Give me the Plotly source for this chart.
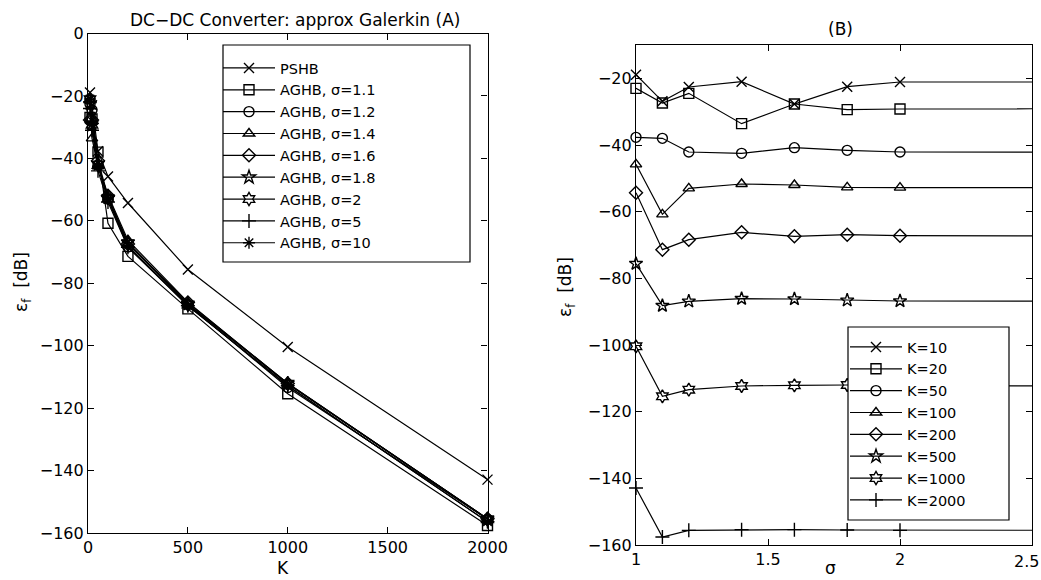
import plotly.graph_objects as go

# ---------------- data ----------------
K_values = [10, 20, 50, 100, 200, 500, 1000, 2000]
sigma_values = [1, 1.1, 1.2, 1.4, 1.6, 1.8, 2, 5, 10]   # sigma=1 column is PSHB
sigma_labels = ["PSHB", "AGHB, σ=1.1", "AGHB, σ=1.2", "AGHB, σ=1.4", "AGHB, σ=1.6",
                "AGHB, σ=1.8", "AGHB, σ=2", "AGHB, σ=5", "AGHB, σ=10"]
K_labels = ["K=10", "K=20", "K=50", "K=100", "K=200", "K=500", "K=1000", "K=2000"]
sigma_tick_vals = [1, 1.5, 2, 2.5]
sigma_tick_text = ["1", "1.5", "2", ""]   # last label drawn as annotation (at figure edge)

# error eps_f [dB] for each K, over sigma_values
err_K10 = [-18.9, -26.9, -22.6, -21.0, -27.7, -22.5, -21.1, -24.0, -21.0]
err_K20 = [-23.0, -27.4, -24.5, -33.6, -27.7, -29.4, -29.2, -31.0, -28.0]
err_K50 = [-37.7, -38.0, -42.1, -42.5, -40.8, -41.6, -42.1, -44.0, -42.5]
err_K100 = [-45.8, -60.8, -53.0, -51.7, -52.0, -52.7, -52.8, -54.0, -53.0]
err_K200 = [-54.3, -71.4, -68.4, -66.2, -67.4, -66.9, -67.2, -68.5, -68.0]
err_K500 = [-75.6, -88.2, -86.9, -86.1, -86.2, -86.6, -86.8, -87.2, -87.2]
err_K1000 = [-100.4, -115.4, -113.4, -112.3, -112.1, -112.0, -112.2, -112.8, -112.8]
err_K2000 = [-142.9, -157.6, -155.6, -155.4, -155.4, -155.5, -155.6, -156.4, -156.4]

err_by_K = [err_K10, err_K20, err_K50, err_K100, err_K200, err_K500, err_K1000, err_K2000]

W, H = 1041, 580
def px(x): return x / W
def py(y): return 1 - y / H

FONT = "DejaVu Sans"

sigma_symbols = ["x-thin-open", "square-open", "circle-open", "triangle-up-open",
                 "diamond-open", "star-open", "hexagram-open", "cross-thin-open", "asterisk-open"]
K_symbols = ["x-thin-open", "square-open", "circle-open", "triangle-up-open",
             "diamond-open", "star-open", "hexagram-open", "cross-thin-open"]

fig = go.Figure()

# ---- left panel: error vs K for each sigma ----
for j, name in enumerate(sigma_labels):
    yvals = [row[j] for row in err_by_K]
    fig.add_trace(go.Scatter(
        x=K_values, y=yvals, name=name, mode="lines+markers",
        line=dict(color="black", width=1.2),
        marker=dict(symbol=sigma_symbols[j], size=10, color="black",
                    line=dict(color="black", width=1.4)),
        cliponaxis=False, xaxis="x", yaxis="y", legend="legend"))

# ---- right panel: error vs sigma for each K ----
for i, name in enumerate(K_labels):
    fig.add_trace(go.Scatter(
        x=sigma_values, y=err_by_K[i], name=name, mode="lines+markers",
        line=dict(color="black", width=1.2),
        marker=dict(symbol=K_symbols[i], size=10, color="black",
                    line=dict(color="black", width=1.4)),
        cliponaxis=False, xaxis="x2", yaxis="y2", legend="legend2"))

axis_common = dict(showline=True, linecolor="black", linewidth=1.2, mirror="ticks",
                   ticks="inside", ticklen=6, tickcolor="black", showgrid=False,
                   zeroline=False, automargin=False,
                   tickfont=dict(family=FONT, size=16, color="black"))

def ann(text, x, y, size=17, angle=0, xanchor="center"):
    return dict(text=text, x=px(x), y=py(y), xref="paper", yref="paper",
                xanchor=xanchor, yanchor="middle", showarrow=False,
                textangle=angle, font=dict(family=FONT, size=size, color="black"))

fig.update_layout(
    width=W, height=H, autosize=False,
    margin=dict(l=0, r=0, t=0, b=0, pad=0, autoexpand=False),
    paper_bgcolor="white", plot_bgcolor="white",
    font=dict(family=FONT, color="black"),
    xaxis=dict(domain=[px(88), px(487.5)], range=[0, 2000], dtick=500, tick0=0,
               anchor="y", **axis_common),
    yaxis=dict(domain=[py(533), py(33.5)], range=[-160, 0], dtick=20, tick0=0,
               anchor="x", **axis_common),
    xaxis2=dict(domain=[px(636), px(1032)], range=[1, 2.5], tickmode="array",
                tickvals=sigma_tick_vals, ticktext=sigma_tick_text,
                anchor="y2", **axis_common),
    yaxis2=dict(domain=[py(545), py(45)], range=[-160, -10], dtick=20, tick0=0,
                anchor="x2", **axis_common),
    legend=dict(x=px(218), y=py(52), xanchor="left", yanchor="top",
                bgcolor="rgba(0,0,0,0)", borderwidth=0, itemwidth=52,
                font=dict(family=FONT, size=14.5, color="black")),
    legend2=dict(x=px(845), y=py(331), xanchor="left", yanchor="top",
                 bgcolor="rgba(0,0,0,0)", borderwidth=0, itemwidth=52,
                 font=dict(family=FONT, size=14.5, color="black")),
    shapes=[
        dict(type="rect", xref="paper", yref="paper", x0=px(223), x1=px(470),
             y0=py(262), y1=py(45), line=dict(color="black", width=1.2),
             fillcolor="white", layer="above"),
        dict(type="rect", xref="paper", yref="paper", x0=px(848), x1=px(1009),
             y0=py(520), y1=py(327), line=dict(color="black", width=1.2),
             fillcolor="white", layer="above"),
    ],
    annotations=[
        ann("DC−DC Converter: approx Galerkin (A)", 295, 20),
        ann("(B)", 840, 29),
        ann("K", 283, 568),
        ann("σ", 830, 568),
        ann("2.5", 1041, 561, size=16, xanchor="right"),
        ann("ε<sub>f</sub>  [dB]", 22, 282, angle=-90),
        ann("ε<sub>f</sub>  [dB]", 567, 287, angle=-90),
    ],
)

fig.write_html("out.html")
